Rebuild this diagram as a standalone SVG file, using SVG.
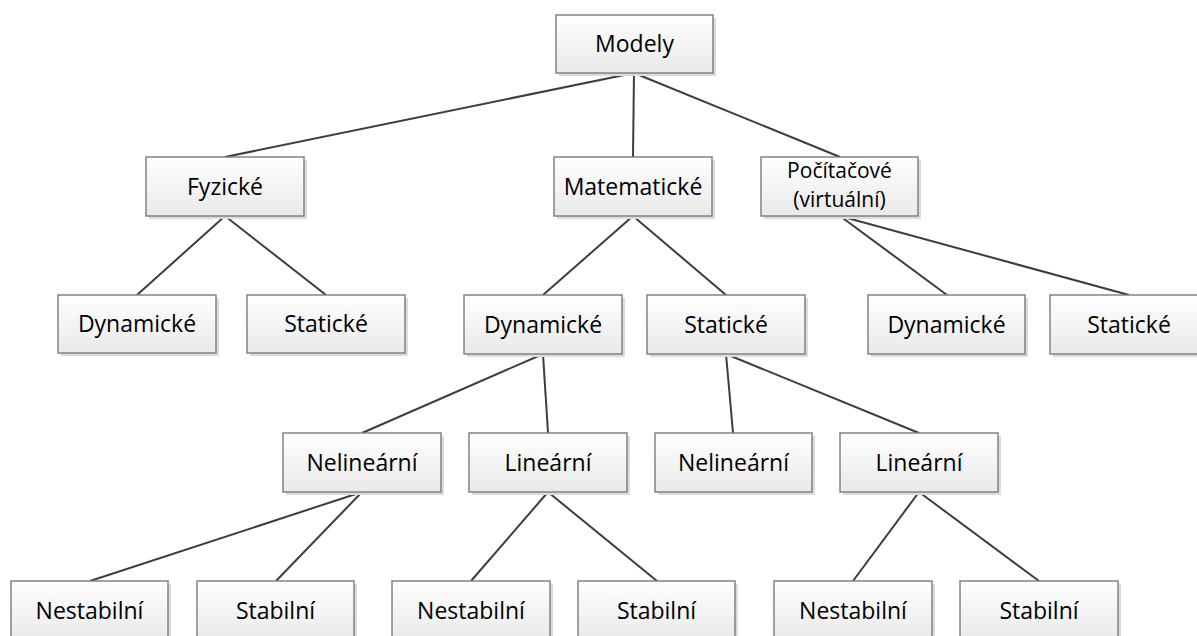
<svg xmlns="http://www.w3.org/2000/svg" width="1197" height="636" viewBox="0 0 1197 636">
<defs>
<linearGradient id="g" x1="0" y1="0" x2="0" y2="1">
<stop offset="0" stop-color="#ffffff"/>
<stop offset="1" stop-color="#e9e9e9"/>
</linearGradient>
<style>
.sh{fill:#dcdcdc}
.bx{fill:url(#g);stroke:#7b7b7b;stroke-width:1.4}
.t{font-family:"Open Sans","Noto Sans",sans-serif;font-size:23px;fill:#000;text-anchor:middle}
.t2{font-size:21px}
.c{stroke:#3d3d3d;stroke-width:2;fill:none}
</style>
</defs>
<rect width="1197" height="636" fill="#fff"/>
<g id="connectors">
<line class="c" x1="634" y1="73" x2="225" y2="157"/>
<line class="c" x1="634" y1="73" x2="633" y2="157"/>
<line class="c" x1="634" y1="73" x2="840" y2="157"/>
<line class="c" x1="225" y1="216" x2="137" y2="295"/>
<line class="c" x1="225" y1="216" x2="326" y2="295"/>
<line class="c" x1="633" y1="216" x2="543" y2="295"/>
<line class="c" x1="633" y1="216" x2="726" y2="295"/>
<line class="c" x1="840" y1="216" x2="947" y2="295"/>
<line class="c" x1="840" y1="216" x2="1129" y2="295"/>
<line class="c" x1="543" y1="354" x2="362" y2="433"/>
<line class="c" x1="543" y1="354" x2="548" y2="433"/>
<line class="c" x1="726" y1="354" x2="733" y2="433"/>
<line class="c" x1="726" y1="354" x2="919" y2="433"/>
<line class="c" x1="362" y1="492" x2="90" y2="581"/>
<line class="c" x1="362" y1="492" x2="276" y2="581"/>
<line class="c" x1="548" y1="492" x2="471" y2="581"/>
<line class="c" x1="548" y1="492" x2="657" y2="581"/>
<line class="c" x1="919" y1="492" x2="853" y2="581"/>
<line class="c" x1="919" y1="492" x2="1039" y2="581"/>
</g>
<g id="modely"><rect class="sh" x="559" y="18" width="157" height="58"/><rect class="bx" x="556" y="15" width="157" height="58"/><text class="t" x="634.5" y="52">Modely</text></g>
<g id="fyzicke"><rect class="sh" x="149" y="160" width="158" height="59"/><rect class="bx" x="146" y="157" width="158" height="59"/><text class="t" x="225" y="195">Fyzické</text></g>
<g id="matematicke"><rect class="sh" x="557" y="160" width="158" height="59"/><rect class="bx" x="554" y="157" width="158" height="59"/><text class="t" x="633" y="195">Matematické</text></g>
<g id="pocitacove"><rect class="sh" x="764" y="160" width="157" height="59"/><rect class="bx" x="761" y="157" width="157" height="59"/><text class="t t2" x="839.5" y="178">Počítačové</text><text class="t t2" x="839.5" y="207">(virtuální)</text></g>
<g id="fyz-dynamicke"><rect class="sh" x="61" y="298" width="158" height="58"/><rect class="bx" x="58" y="295" width="158" height="58"/><text class="t" x="137" y="332">Dynamické</text></g>
<g id="fyz-staticke"><rect class="sh" x="250" y="298" width="158" height="58"/><rect class="bx" x="247" y="295" width="158" height="58"/><text class="t" x="326" y="332">Statické</text></g>
<g id="mat-dynamicke"><rect class="sh" x="467" y="298" width="158" height="59"/><rect class="bx" x="464" y="295" width="158" height="59"/><text class="t" x="543" y="333">Dynamické</text></g>
<g id="mat-staticke"><rect class="sh" x="650" y="298" width="158" height="59"/><rect class="bx" x="647" y="295" width="158" height="59"/><text class="t" x="726" y="333">Statické</text></g>
<g id="poc-dynamicke"><rect class="sh" x="871" y="298" width="157" height="59"/><rect class="bx" x="868" y="295" width="157" height="59"/><text class="t" x="946.5" y="333">Dynamické</text></g>
<g id="poc-staticke"><rect class="sh" x="1053" y="298" width="158" height="59"/><rect class="bx" x="1050" y="295" width="158" height="59"/><text class="t" x="1129" y="333">Statické</text></g>
<g id="dyn-nelinearni"><rect class="sh" x="286" y="436" width="158" height="59"/><rect class="bx" x="283" y="433" width="158" height="59"/><text class="t" x="362" y="471">Nelineární</text></g>
<g id="dyn-linearni"><rect class="sh" x="472" y="436" width="158" height="59"/><rect class="bx" x="469" y="433" width="158" height="59"/><text class="t" x="548" y="471">Lineární</text></g>
<g id="stat-nelinearni"><rect class="sh" x="658" y="436" width="157" height="59"/><rect class="bx" x="655" y="433" width="157" height="59"/><text class="t" x="733.5" y="471">Nelineární</text></g>
<g id="stat-linearni"><rect class="sh" x="843" y="436" width="158" height="59"/><rect class="bx" x="840" y="433" width="158" height="59"/><text class="t" x="919" y="471">Lineární</text></g>
<g id="nel-nestabilni"><rect class="sh" x="14" y="584" width="157" height="59"/><rect class="bx" x="11" y="581" width="157" height="59"/><text class="t" x="89.5" y="619">Nestabilní</text></g>
<g id="nel-stabilni"><rect class="sh" x="200" y="584" width="157" height="59"/><rect class="bx" x="197" y="581" width="157" height="59"/><text class="t" x="275.5" y="619">Stabilní</text></g>
<g id="lin-nestabilni"><rect class="sh" x="395" y="584" width="158" height="59"/><rect class="bx" x="392" y="581" width="158" height="59"/><text class="t" x="471" y="619">Nestabilní</text></g>
<g id="lin-stabilni"><rect class="sh" x="581" y="584" width="157" height="59"/><rect class="bx" x="578" y="581" width="157" height="59"/><text class="t" x="656.5" y="619">Stabilní</text></g>
<g id="lin2-nestabilni"><rect class="sh" x="777" y="584" width="158" height="59"/><rect class="bx" x="774" y="581" width="158" height="59"/><text class="t" x="853" y="619">Nestabilní</text></g>
<g id="lin2-stabilni"><rect class="sh" x="963" y="584" width="158" height="59"/><rect class="bx" x="960" y="581" width="158" height="59"/><text class="t" x="1039" y="619">Stabilní</text></g>
</svg>
